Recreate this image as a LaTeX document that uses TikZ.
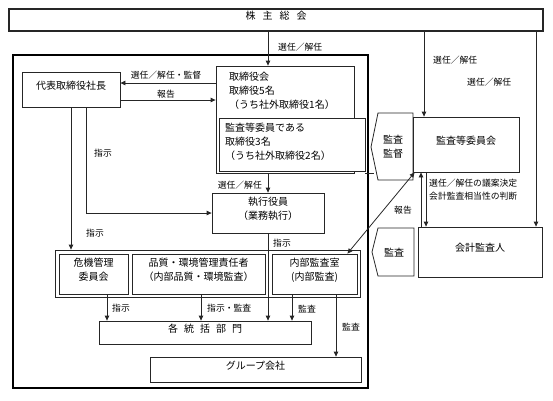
\documentclass[tikz,border=0pt]{standalone}
\usepackage{fontspec}
\setmainfont{Noto Sans CJK JP}
\usetikzlibrary{arrows.meta,fit,calc}
\begin{document}
\begin{tikzpicture}[x=1pt,y=-1pt,
 box/.style={draw=black!85, line width=0.8pt, inner sep=0pt, align=center, fill=white, font=\fontsize{10}{14}\selectfont},
 lbl/.style={inner sep=0pt, font=\fontsize{8.8}{12}\selectfont},
 arr/.style={draw=black!85, line width=0.8pt, -{Triangle[length=5pt,width=4.5pt]}},
 darr/.style={draw=black!85, line width=0.8pt, {Triangle[length=5pt,width=4.5pt]}-{Triangle[length=5pt,width=4.5pt]}},
 ln/.style={draw=black!85, line width=0.8pt},
 txt/.style={inner sep=0pt, align=center, font=\fontsize{10}{14}\selectfont}]
\useasboundingbox (0,0) rectangle (553,400);

% frames
\draw[line width=2.6pt] (13,55) rectangle (368,388);
\node[box, line width=1.6pt, fit={(9,9) (543,31)}] (kabu) {株\hspace{0.7em}主\hspace{0.7em}総\hspace{0.7em}会};

% boards
\node[box, fit={(216,66) (354,173)}] (tori) {};
\node[box, fit={(219,118) (365,171)}] (kansa) {};
\node[txt, anchor=north west, align=left] (toritxt) at (229,72) {取締役会\\取締役5名\\（うち社外取締役1名）};
\node[txt, anchor=north west, align=left] (kansatxt) at (225,123) {監査等委員である\\取締役3名\\（うち社外取締役2名）};

\node[box, fit={(22,72) (120,107)}] (daihyo) {代表取締役社長};
\node[box, fit={(212,193) (324,233)}] (shikko) {執行役員\\（業務執行）};

% group of committees
\node[draw=black!85, line width=0.8pt, inner sep=0pt, fit={(55,250) (360,297)}] (grp) {};
\node[box, fit={(59,254) (128,294)}] (kiki) {危機管理\\委員会};
\node[box, fit={(132,254) (265,294)}] (hin) {品質・環境管理責任者\\（内部品質・環境監査）};
\node[box, fit={(272,254) (357,294)}] (naibu) {内部監査室\\(内部監査)};

\node[box, fit={(99,321) (311,344)}] (kaku) {各\hspace{0.6em}統\hspace{0.6em}括\hspace{0.6em}部\hspace{0.6em}門};
\node[box, fit={(150,357) (361,382)}] (grpco) {グループ会社};

% right side
\draw[line width=0.8pt, draw=black!85, fill=white] (378,113) -- (371,147) -- (378,180) -- (413,180) -- (413,113) -- cycle;
\node[txt] (kantoku) at (393,147) {監査\\監督};
\draw[line width=0.8pt, draw=black!85, fill=white] (378,228) -- (372,252) -- (378,276) -- (414,276) -- (414,228) -- cycle;
\node[txt] (kansa2) at (394,253) {監査};
\node[box, fit={(413,117) (519,172)}] (iinkai) {監査等委員会};
\node[box, fit={(418,227) (542,277)}] (kaikei) {会計監査人};

\draw[ln] (kansa.south east) ++(0,2) -- ++(9,0);

% arrows from shareholders
\draw[arr] (268,0 |- kabu.south) -- (268,0 |- tori.north);
\node[lbl, anchor=west] at (278,47) {選任／解任};
\draw[arr] (424,0 |- kabu.south) -- (424,0 |- iinkai.north);
\node[lbl, anchor=west] at (433,60) {選任／解任};
\draw[arr] (536,0 |- kabu.south) -- (536,0 |- kaikei.north);
\node[lbl, anchor=west] at (467,82) {選任／解任};

% board <-> president
\draw[arr] (tori.west |- 0,83) -- (daihyo.east |- 0,83);
\node[lbl] at (166,75) {選任／解任・監督};
\draw[arr] (daihyo.east |- 0,100) -- (tori.west |- 0,100);
\node[lbl] at (166,94) {報告};

% president instructions
\draw[arr] (71,0 |- daihyo.south) -- (71,0 |- grp.north);
\node[lbl, anchor=west] at (86,233) {指示};
\draw[arr] (86,0 |- daihyo.south) -- (86,213) -- (shikko.west |- 0,213);
\node[lbl, anchor=west] at (94,153) {指示};

% board -> executive
\draw[arr] (268,0 |- tori.south) -- (268,0 |- shikko.north);
\node[lbl, anchor=east] at (262,185) {選任／解任};
\draw[arr] (268,0 |- shikko.south) -- (268,0 |- kaku.north);
\node[lbl, anchor=west] at (273,243) {指示};

% to departments
\draw[arr] (107,0 |- kiki.south) -- (107,0 |- kaku.north);
\node[lbl, anchor=west] at (112,308) {指示};
\draw[arr] (201,0 |- hin.south) -- (201,0 |- kaku.north);
\node[lbl, anchor=west] at (207,308) {指示・監査};
\draw[arr] (292,0 |- naibu.south) -- (292,0 |- kaku.north);
\node[lbl, anchor=west] at (298,309) {監査};
\draw[arr] (336,0 |- naibu.south) -- (336,0 |- grpco.north);
\node[lbl, anchor=west] at (342,327) {監査};

% audit committee links
\draw[darr] ($(naibu.north east)+(-10,0)$) -- ($(iinkai.south west)+(2,0)$);
\node[lbl] at (403,210) {報告};
\draw[arr] (421,0 |- kaikei.north) -- (421,0 |- iinkai.south);
\draw[arr] (426,0 |- iinkai.south) -- (426,0 |- kaikei.north);
\node[lbl, anchor=north west, align=left, font=\fontsize{8.8}{13}\selectfont] at (429,179) {選任／解任の議案決定\\会計監査相当性の判断};
\end{tikzpicture}
\end{document}
